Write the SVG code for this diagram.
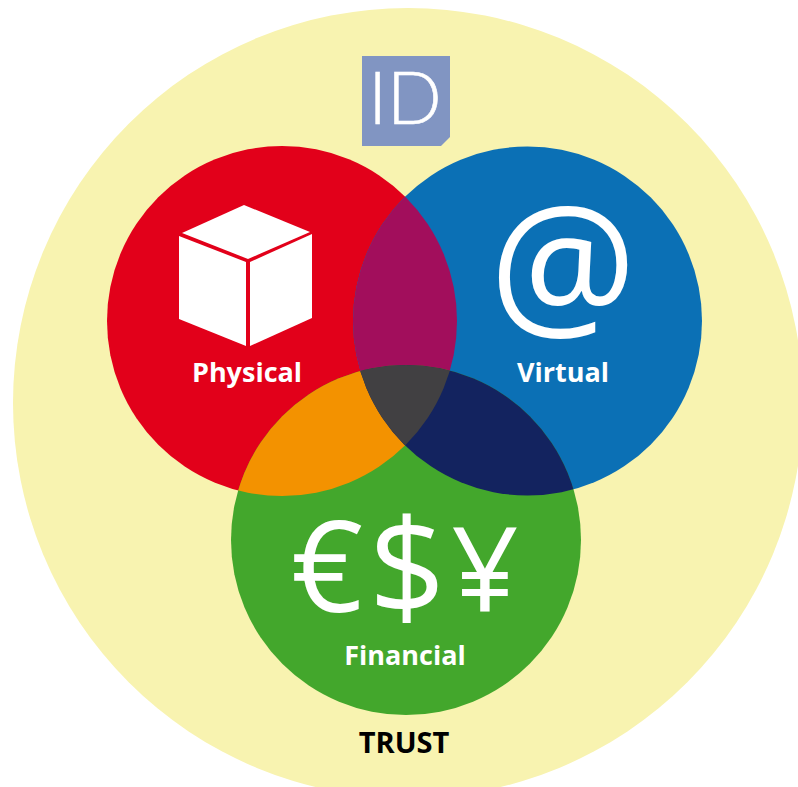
<svg xmlns="http://www.w3.org/2000/svg" width="798" height="787" viewBox="0 0 798 787">
<style>
.l{font-family:"Open Sans","Liberation Sans",sans-serif;font-weight:700;font-size:27px;fill:#fff;text-anchor:middle}
.g{font-family:"Open Sans","Liberation Sans",sans-serif;font-weight:500;fill:#fff;text-anchor:middle}
</style>
<defs>
<clipPath id="cr"><circle cx="282" cy="321" r="175"/></clipPath>
<clipPath id="cb"><circle cx="527.5" cy="321" r="174.5"/></clipPath>
</defs>
<rect width="798" height="787" fill="#fff"/>
<g id="trust">
<circle cx="408" cy="403" r="395" fill="#f8f3b0"/>
<text x="404" y="753" font-family="'Open Sans','Liberation Sans',sans-serif" font-weight="700" font-size="29" text-anchor="middle" fill="#000">TRUST</text>
</g>
<g id="id-badge">
<path d="M362 56H450V137L441 146H362Z" fill="#8195c2"/>
<text x="405" y="124" font-family="Lato,'Open Sans',sans-serif" font-weight="300" font-size="72" stroke="#fff" stroke-width="0.6" text-anchor="middle" fill="#fff">ID</text>
</g>
<g id="physical">
<circle cx="282" cy="321" r="175" fill="#e2001a"/>
</g>
<g id="virtual">
<circle cx="527.5" cy="321" r="174.5" fill="#0b70b5"/>
</g>
<g id="financial">
<circle cx="406" cy="540" r="175" fill="#43a72c"/>
</g>
<g id="overlaps">
<g clip-path="url(#cr)"><circle cx="527.5" cy="321" r="174.5" fill="#a20e5c"/></g>
<g clip-path="url(#cr)"><circle cx="406" cy="540" r="175" fill="#f39200"/></g>
<g clip-path="url(#cb)"><circle cx="406" cy="540" r="175" fill="#13235f"/></g>
<g clip-path="url(#cr)"><g clip-path="url(#cb)"><circle cx="406" cy="540" r="175" fill="#414042"/></g></g>
</g>
<g id="physical-label">
<path d="M244 205L310 232L248 259L182 233Z" fill="#fff"/>
<path d="M179 236L246 262V346L179 319Z" fill="#fff"/>
<path d="M250 262L312 234V318L250 346Z" fill="#fff"/>
<text class="l" x="247" y="382">Physical</text>
</g>
<g id="virtual-label">
<text class="g" x="563" y="324" font-size="164">@</text>
<text class="l" x="563" y="382">Virtual</text>
</g>
<g id="financial-label">
<text class="g" x="327" y="612" font-size="126">€</text>
<text class="g" x="407" y="615" font-size="134">$</text>
<text class="g" x="485" y="612" font-size="118">¥</text>
<text class="l" x="405" y="665">Financial</text>
</g>
</svg>
